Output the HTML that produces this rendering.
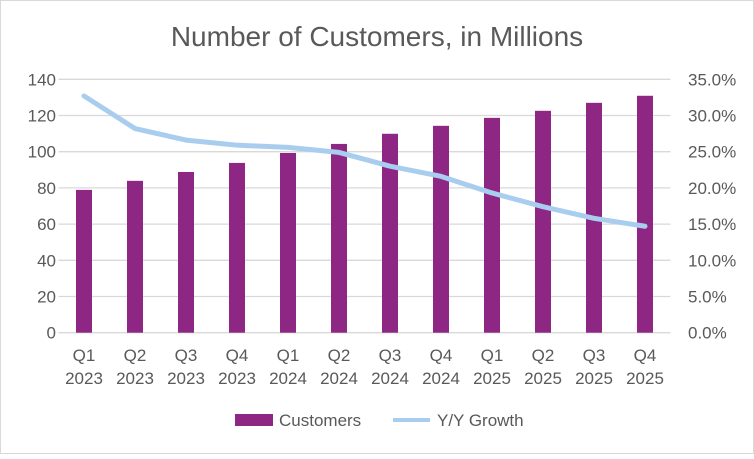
<!DOCTYPE html>
<html><head><meta charset="utf-8"><style>
body{margin:0;background:#fff}
svg text{font-family:"Liberation Sans",sans-serif;fill:#595959}
</style></head><body>
<svg width="754" height="454" xmlns="http://www.w3.org/2000/svg">
<rect x="0.5" y="0.5" width="753" height="453" fill="#fff" stroke="#d9d9d9"/>
<text x="377" y="46" font-size="28" text-anchor="middle">Number of Customers, in Millions</text>
<g id="grid"></g><g id="bars"></g><g id="line"></g><g id="axes"></g>
<g>
<rect x="235" y="414" width="38" height="12" fill="#8e2683"/>
<text x="279" y="426" font-size="17">Customers</text>
<line x1="393" y1="420" x2="430" y2="420" stroke="#a9cdee" stroke-width="4"/>
<text x="437" y="426" font-size="17">Y/Y Growth</text>
</g>
</svg>
<script>
const quarters=["Q1","Q2","Q3","Q4","Q1","Q2","Q3","Q4","Q1","Q2","Q3","Q4"];
const years=["2023","2023","2023","2023","2024","2024","2024","2024","2025","2025","2025","2025"];
const customers=[78.9,83.9,88.8,93.8,99.3,104.3,109.9,114.3,118.7,122.6,127,130.9];
const growth=[32.7,28.2,26.6,25.9,25.6,24.9,23.0,21.6,19.3,17.4,15.8,14.7];
const leftTicks=[0,20,40,60,80,100,120,140];
const rightTicks=["0.0%","5.0%","10.0%","15.0%","20.0%","25.0%","30.0%","35.0%"];
const NS="http://www.w3.org/2000/svg";
const X0=58.5,X1=670.5,Y0=332.7,Y1=79.3;
const band=(X1-X0)/quarters.length;
const xc=i=>X0+band*(i+0.5);
const yL=v=>Y0-(v/140)*(Y0-Y1);
const yR=v=>Y0-(v/35)*(Y0-Y1);
function mk(tag,attrs,parent,txt){const e=document.createElementNS(NS,tag);for(const k in attrs)e.setAttribute(k,attrs[k]);if(txt!==undefined)e.textContent=txt;document.getElementById(parent).appendChild(e);return e;}
leftTicks.forEach((t,i)=>{
 const y=yL(t);
 const g=mk("line",{x1:X0,x2:X1,y1:y,y2:y,stroke:"#d9d9d9","stroke-width":1.3},"grid");
 
 
 const l=mk("text",{x:56,y:y+6,"font-size":17,"text-anchor":"end"},"axes",t);
 
 
 const r=mk("text",{x:688,y:y+6,"font-size":17},"axes",rightTicks[i]);
 
 
});
customers.forEach((v,i)=>{
 const b=mk("rect",{x:xc(i)-8,y:yL(v),width:16,height:Y0-yL(v),fill:"#8e2683"},"bars");
 
 
 const q=mk("text",{x:xc(i),y:361,"font-size":17,"text-anchor":"middle"},"axes",quarters[i]);
 
 
 const yy=mk("text",{x:xc(i),y:384,"font-size":17,"text-anchor":"middle"},"axes",years[i]);
 
 
});
const p=mk("polyline",{points:growth.map((v,i)=>xc(i)+","+yR(v)).join(" "),fill:"none",stroke:"#a9cdee","stroke-width":5,"stroke-linejoin":"round","stroke-linecap":"round"},"line");


</script>
</body></html>
